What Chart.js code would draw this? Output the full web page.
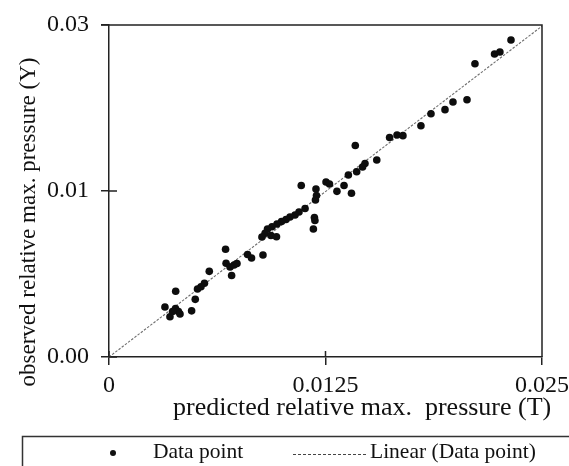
<!DOCTYPE html>
<html>
<head>
<meta charset="utf-8">
<script src="https://cdn.jsdelivr.net/npm/chart.js@4.4.1/dist/chart.umd.min.js"></script>
<style>
  html, body { margin: 0; padding: 0; background: #fff; }
  canvas { display: block; }
</style>
</head>
<body>
<canvas id="chart" width="569" height="466"></canvas>
<script>
// Predicted vs observed relative maximum pressure
const predicted = [0.02321, 0.02226, 0.02257, 0.02113, 0.02067, 0.01986, 0.01940, 0.01859, 0.01801, 0.01697,
  0.01663, 0.01620, 0.01546, 0.01422, 0.01478, 0.01464, 0.01430, 0.01382, 0.01400, 0.01357,
  0.01316, 0.01253, 0.01273, 0.01195, 0.01198, 0.01192, 0.01110, 0.01186, 0.01189, 0.01180,
  0.01132, 0.01097, 0.01074, 0.01045, 0.01022, 0.00996, 0.00970, 0.00941, 0.00915, 0.00901,
  0.00883, 0.00935, 0.00967, 0.00889, 0.00823, 0.00800, 0.00673, 0.00676, 0.00699, 0.00722,
  0.00739, 0.00708, 0.00579, 0.00551, 0.00531, 0.00511, 0.00498, 0.00385, 0.00323, 0.00352,
  0.00384, 0.00401, 0.00410, 0.00367, 0.00477];
const observed = [0.02864, 0.02738, 0.02756, 0.02650, 0.02325, 0.02304, 0.02235, 0.02198, 0.02090, 0.02000,
  0.02006, 0.01983, 0.01780, 0.01911, 0.01748, 0.01717, 0.01674, 0.01645, 0.01479, 0.01550,
  0.01497, 0.01581, 0.01563, 0.01518, 0.01459, 0.01419, 0.01550, 0.01261, 0.01233, 0.01157,
  0.01342, 0.01310, 0.01283, 0.01265, 0.01242, 0.01224, 0.01202, 0.01177, 0.01157, 0.01118,
  0.01084, 0.01098, 0.01087, 0.00922, 0.00895, 0.00926, 0.00973, 0.00847, 0.00813, 0.00831,
  0.00845, 0.00736, 0.00774, 0.00666, 0.00635, 0.00614, 0.00521, 0.00594, 0.00452, 0.00364,
  0.00438, 0.00411, 0.00389, 0.00411, 0.00417];

// Linear trendline endpoints
const trendX = [0, 0.025];
const trendY = [0, 0.0299];

const xTickValues = [0, 0.0125, 0.025];
const xTickLabels = ['0', '0.0125', '0.025'];
const yTickValues = [0, 0.015, 0.03];
const yTickLabels = ['0.00', '0.01', '0.03'];

const xTitle = 'predicted relative max.  pressure (T)';
const yTitle = 'observed relative max. pressure (Y)';
const pointSeriesName = 'Data point';
const trendSeriesName = 'Linear (Data point)';

const FONT = '"Liberation Serif", "Times New Roman", serif';
const AXIS = '#222';
const TREND = '#6e6e6e';

const points = predicted.map((v, i) => ({ x: v, y: observed[i] }));
const trend = trendX.map((v, i) => ({ x: v, y: trendY[i] }));

// keep the plot area fixed regardless of tick-label overhang
function clearPadding(s) {
  s.paddingLeft = 0; s.paddingRight = 0; s.paddingTop = 0; s.paddingBottom = 0;
}

// Frame, crossing tick marks, axis titles and the boxed legend
const decorations = {
  id: 'decorations',
  afterDraw(chart) {
    const { ctx, chartArea: a, scales: { x, y } } = chart;
    ctx.save();

    ctx.strokeStyle = AXIS;
    ctx.lineWidth = 1.5;
    ctx.beginPath();
    ctx.moveTo(a.left - 8, a.top);
    ctx.lineTo(a.right, a.top);
    ctx.lineTo(a.right, a.bottom);
    yTickValues.forEach(v => {
      const p = y.getPixelForValue(v);
      ctx.moveTo(a.left, p); ctx.lineTo(a.left + 8, p);
    });
    xTickValues.forEach(v => {
      const p = x.getPixelForValue(v);
      ctx.moveTo(p, a.bottom); ctx.lineTo(p, a.bottom - 6);
    });
    ctx.stroke();

    ctx.fillStyle = '#111';
    ctx.font = '26px ' + FONT;
    ctx.textAlign = 'left';
    ctx.textBaseline = 'alphabetic';
    ctx.fillText(xTitle, 173, 415);

    ctx.save();
    ctx.translate(29, 222);
    ctx.rotate(-Math.PI / 2);
    ctx.font = '23px ' + FONT;
    ctx.textAlign = 'center';
    ctx.textBaseline = 'middle';
    ctx.fillText(yTitle, 0, 0);
    ctx.restore();

    // legend box
    const ds = chart.data.datasets;
    ctx.strokeStyle = '#333';
    ctx.lineWidth = 1.5;
    ctx.strokeRect(22.5, 436.5, 700, 100);

    ctx.fillStyle = '#111';
    ctx.beginPath();
    ctx.arc(113, 453, 3, 0, Math.PI * 2);
    ctx.fill();

    ctx.font = '21.5px ' + FONT;
    ctx.textAlign = 'left';
    ctx.textBaseline = 'middle';
    ctx.fillText(ds[0].label, 153, 452);

    ctx.strokeStyle = '#444';
    ctx.lineWidth = 1;
    ctx.setLineDash([3, 2]);
    ctx.beginPath();
    ctx.moveTo(293, 454.5);
    ctx.lineTo(366, 454.5);
    ctx.stroke();
    ctx.setLineDash([]);
    ctx.fillText(ds[1].label, 370, 452);

    ctx.restore();
  }
};

new Chart(document.getElementById('chart'), {
  type: 'scatter',
  data: {
    datasets: [
      {
        label: pointSeriesName,
        data: points,
        pointRadius: 3.8,
        pointHoverRadius: 3.8,
        pointBackgroundColor: '#0d0d0d',
        pointBorderWidth: 0,
        order: 1
      },
      {
        type: 'line',
        label: trendSeriesName,
        data: trend,
        borderColor: TREND,
        borderWidth: 1.1,
        borderDash: [2.5, 1.5],
        pointRadius: 0,
        fill: false,
        order: 2
      }
    ]
  },
  options: {
    responsive: false,
    animation: false,
    layout: { padding: { left: 0, right: 27, top: 25, bottom: 0 } },
    plugins: { legend: { display: false }, tooltip: { enabled: false } },
    scales: {
      x: {
        type: 'linear',
        min: 0,
        max: 0.025,
        afterBuildTicks: s => { s.ticks = xTickValues.map(v => ({ value: v })); },
        afterFit: s => { s.height = 109; clearPadding(s); },
        ticks: {
          callback: (v, i) => xTickLabels[i],
          font: { family: FONT, size: 24 },
          color: '#111',
          padding: 6,
          maxRotation: 0,
          autoSkip: false
        },
        grid: { display: true, drawOnChartArea: false, drawTicks: true, tickLength: 8, color: AXIS, lineWidth: 1.5 },
        border: { display: true, color: AXIS, width: 1.5 }
      },
      y: {
        type: 'linear',
        min: 0,
        max: 0.03,
        afterBuildTicks: s => { s.ticks = yTickValues.map(v => ({ value: v })); },
        afterFit: s => { s.width = 109; clearPadding(s); },
        ticks: {
          callback: (v, i) => yTickLabels[i],
          font: { family: FONT, size: 24 },
          color: '#111',
          padding: 12,
          autoSkip: false
        },
        grid: { display: true, drawOnChartArea: false, drawTicks: true, tickLength: 8, color: AXIS, lineWidth: 1.5 },
        border: { display: true, color: AXIS, width: 1.5 }
      }
    }
  },
  plugins: [decorations]
});
</script>
</body>
</html>
